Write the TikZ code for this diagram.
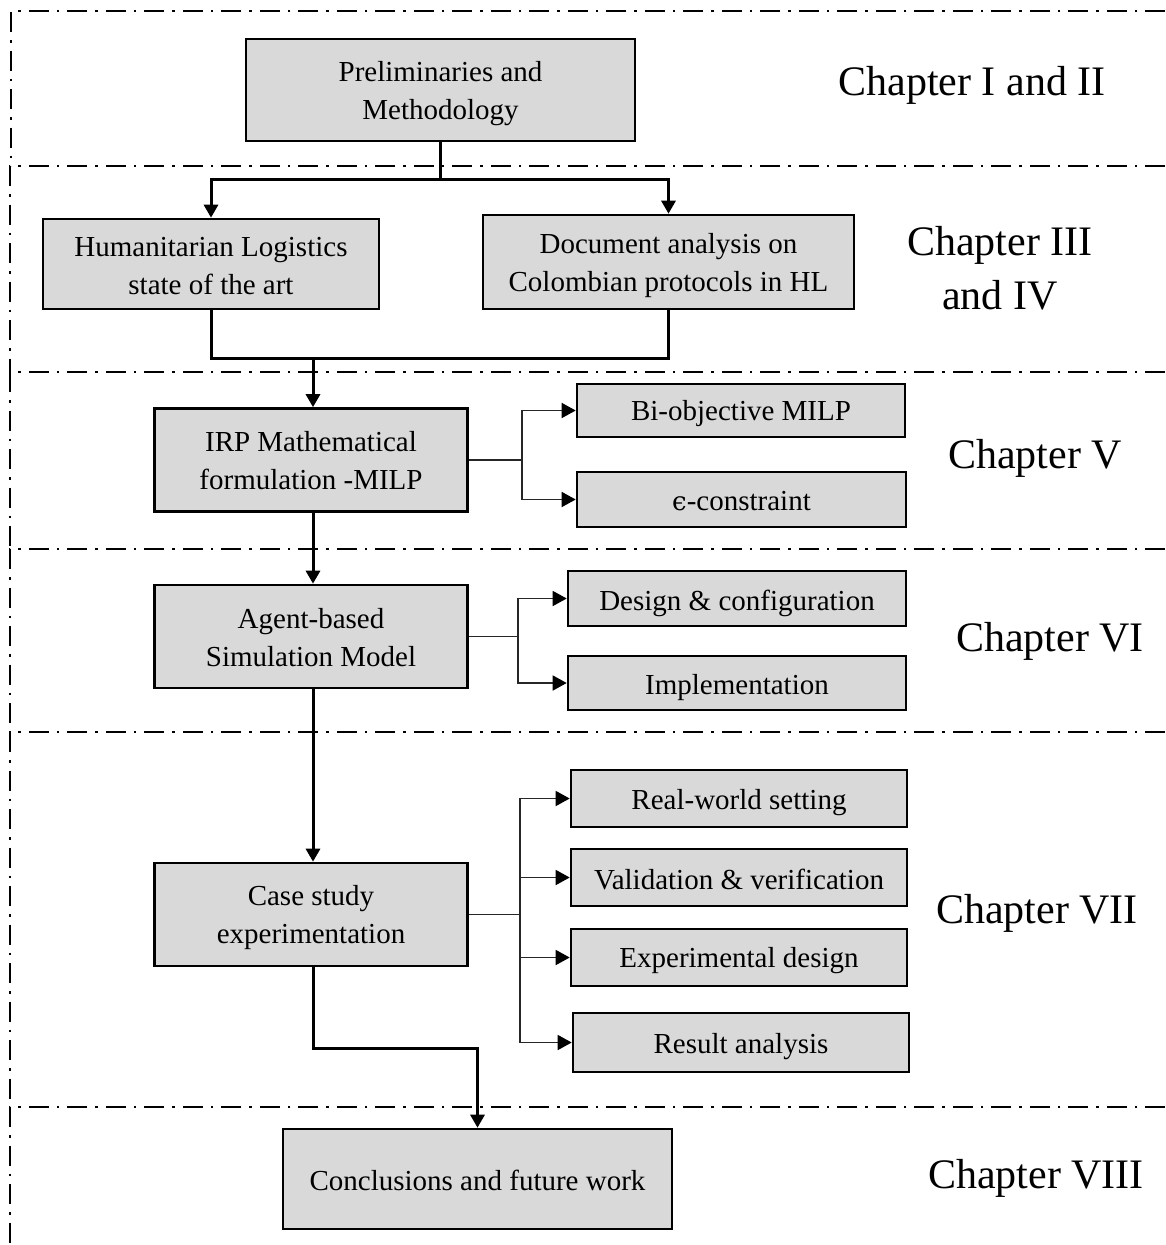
\documentclass[tikz,border=0pt]{standalone}
\usepackage{fontspec}
\setmainfont{Liberation Serif}
\newfontfamily\symbolfont{DejaVu Serif}
\usetikzlibrary{arrows.meta}
\definecolor{boxgray}{RGB}{217,217,217}
\begin{document}
\begin{tikzpicture}[x=1pt,y=-1pt,
  box/.style={draw=black,line width=2.6pt,fill=boxgray,inner sep=0pt},
  txt/.style={inner sep=0pt,align=center,font=\fontsize{29}{38}\selectfont},
  chap/.style={inner sep=0pt,align=center,font=\fontsize{42}{54}\selectfont},
  section/.style={line width=2.7pt,dash pattern=on 20pt off 8pt on 2.5pt off 8pt},
  mainline/.style={line width=3pt},
  mainarrow/.style={line width=3pt,-{Triangle[length=13pt,width=14pt]}},
  branch/.style={line width=1.5pt,draw=black!85},
  brancharrow/.style={line width=1.5pt,draw=black!85,-{Triangle[length=14pt,width=15pt,fill=black,color=black]}}
]
\useasboundingbox (0,0) rectangle (1165,1245);

% chapter bands
\draw[section] (1165,11) -- (11,11) -- (11,166);
\draw[section] (1165,166) -- (10,166) -- (10,372);
\draw[section] (1165,372) -- (10,372) -- (10,549);
\draw[section] (1165,549) -- (10,549) -- (10,732);
\draw[section] (1165,732) -- (10,732) -- (10,1107);
\draw[section] (1165,1107) -- (10,1107) -- (10,1245);

% main boxes
\node[box,minimum width=389,minimum height=102] (prelim) at (440.5,90) {};
\node[box,minimum width=336,minimum height=90] (hum) at (211,264) {};
\node[box,minimum width=371,minimum height=94] (doc) at (668.5,262) {};
\node[box,minimum width=313,minimum height=103] (irp) at (311,460) {};
\node[box,minimum width=313,minimum height=103] (agent) at (311,636.5) {};
\node[box,minimum width=313,minimum height=103] (case) at (311,914.5) {};
\node[box,minimum width=389,minimum height=100] (concl) at (477.5,1179) {};

% detail boxes
\node[box,minimum width=328,minimum height=53] (biobj) at (741,410.5) {};
\node[box,minimum width=329,minimum height=55] (eps) at (741.5,499.5) {};
\node[box,minimum width=338,minimum height=55] (design) at (737,598.5) {};
\node[box,minimum width=338,minimum height=54] (impl) at (737,683) {};
\node[box,minimum width=336,minimum height=57] (real) at (739,798.5) {};
\node[box,minimum width=336,minimum height=57] (valid) at (739,877.5) {};
\node[box,minimum width=336,minimum height=57] (expd) at (739,957.5) {};
\node[box,minimum width=336,minimum height=59] (result) at (741,1042.5) {};

% box texts
\node[txt] (prelim-t) at ([yshift=-4pt]prelim.center) {Preliminaries and\\Methodology};
\node[txt] (hum-t) at ([yshift=-2pt]hum.center) {Humanitarian Logistics\\state of the art};
\node[txt] (doc-t) at ([yshift=-4pt]doc.center) {Document analysis on\\Colombian protocols in HL};
\node[txt] (irp-t) at ([yshift=-0.5pt]irp.center) {IRP Mathematical\\formulation -MILP};
\node[txt] (agent-t) at ([yshift=-1pt]agent.center) {Agent-based\\Simulation Model};
\node[txt] (case-t) at ([yshift=-3pt]case.center) {Case study\\experimentation};
\node[txt] (concl-t) at ([yshift=-1.5pt]concl.center) {Conclusions and future work};
\node[txt] (biobj-t) at ([yshift=-3pt]biobj.center) {Bi-objective MILP};
\node[txt] (eps-t) at ([yshift=-1.5pt]eps.center) {{\symbolfont\fontsize{26}{38}\selectfont ϵ}-constraint};
\node[txt] (design-t) at ([yshift=-4.5pt]design.center) {Design \& configuration};
\node[txt] (impl-t) at ([yshift=-4.5pt]impl.center) {Implementation};
\node[txt] (real-t) at ([yshift=-4pt]real.center) {Real-world setting};
\node[txt] (valid-t) at ([yshift=-1.5pt]valid.center) {Validation \& verification};
\node[txt] (expd-t) at ([yshift=-3pt]expd.center) {Experimental design};
\node[txt] (result-t) at ([yshift=-4pt]result.center) {Result analysis};

% chapter labels
\node[chap] (c12) at (972,85) {Chapter I and II};
\node[chap] (c34) at (1000,268) {Chapter III\\and IV};
\node[chap] (c5) at (1035,458) {Chapter V};
\node[chap] (c6) at (1050,641) {Chapter VI};
\node[chap] (c7) at (1037,913) {Chapter VII};
\node[chap] (c8) at (1036,1178) {Chapter VIII};

% main flow
\coordinate (split) at (440.5,179);
\draw[mainline] (prelim.south) -- (split);
\draw[mainarrow] (split) -| (hum.north);
\draw[mainarrow] (split) -| (doc.north);
\coordinate (merge) at (313,358);
\draw[mainline] (hum.south) |- (merge) -| (doc.south);
\draw[mainarrow] (merge) -- (merge |- irp.north);
\draw[mainarrow] (irp.south -| merge) -- (agent.north -| merge);
\draw[mainarrow] (agent.south -| merge) -- (case.north -| merge);
\coordinate (bend) at (477.5,1048);
\draw[mainarrow] (case.south -| merge) |- (bend) -- (concl.north);

% detail branches
\coordinate (b5) at (522,460);
\draw[branch] (irp.east) -- (b5);
\draw[brancharrow] (b5) |- (biobj.west);
\draw[brancharrow] (b5) |- (eps.west);
\coordinate (b6) at (518,636.5);
\draw[branch] (agent.east) -- (b6);
\draw[brancharrow] (b6) |- (design.west);
\draw[brancharrow] (b6) |- (impl.west);
\coordinate (b7) at (520,914.5);
\draw[branch] (case.east) -- (b7);
\draw[brancharrow] (b7) |- (real.west);
\draw[brancharrow] (b7) |- (valid.west);
\draw[brancharrow] (b7) |- (expd.west);
\draw[brancharrow] (b7) |- (result.west);
\end{tikzpicture}
\end{document}
